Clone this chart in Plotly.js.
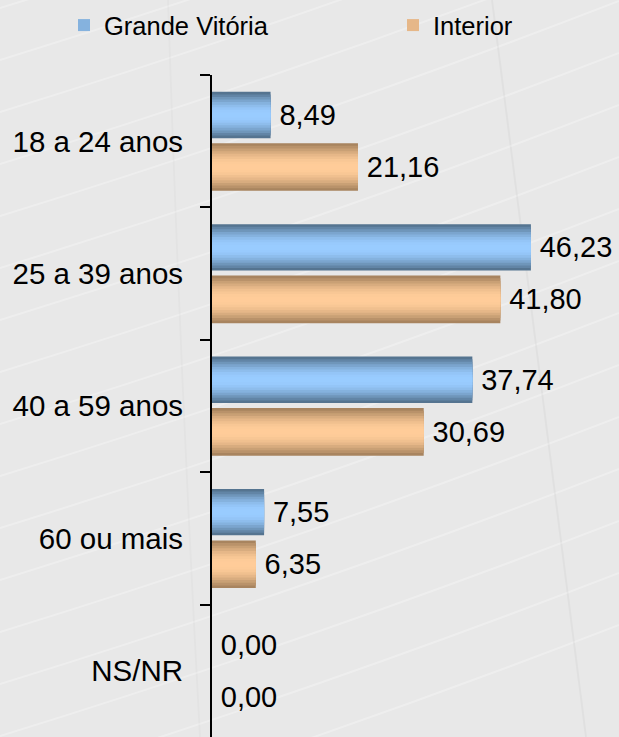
<!DOCTYPE html>
<html>
<head>
<meta charset="utf-8">
<script src="https://cdn.plot.ly/plotly-3.0.1.min.js"></script>
<style>html,body{margin:0;padding:0;background:#e8e8e8;}#chart{width:619px;height:737px;}</style>
</head>
<body>
<div id="chart"></div>
<script>
const categories = ["18 a 24 anos", "25 a 39 anos", "40 a 59 anos", "60 ou mais", "NS/NR"];
const grandeVitoria = [8.49, 46.23, 37.74, 7.55, 0.00];
const interior = [21.16, 41.80, 30.69, 6.35, 0.00];
const seriesNames = ["Grande Vitória", "Interior"];

const FONT = "Liberation Sans, Arial, sans-serif";
const N = 9;
const W = 619, H = 737, ML = 212, MT = 75;
const PW = W - ML, PH = H - MT;

function mix(a, b, t) {
  const pa = [parseInt(a.slice(1,3),16), parseInt(a.slice(3,5),16), parseInt(a.slice(5,7),16)];
  const pb = [parseInt(b.slice(1,3),16), parseInt(b.slice(3,5),16), parseInt(b.slice(5,7),16)];
  return "rgb(" + pa.map((v,i)=>Math.round(v + (pb[i]-v)*t)).join(",") + ")";
}

function layers(name, values, center, fullWidth, edge, mid, legendId) {
  const out = [];
  for (let k = 0; k < N; k++) {
    const w = fullWidth * (1 - k / N);
    const t = Math.sin((k / (N - 1)) * Math.PI / 2);
    out.push({
      type: "bar",
      orientation: "h",
      name: name,
      y: categories,
      x: values,
      width: w,
      offset: center - w / 2,
      marker: { color: mix(edge, mid, t), line: { width: 0 } },
      showlegend: k === 4,
      legend: legendId,
      legendgroup: name,
      hoverinfo: k === 0 ? "x+name" : "skip",
      texttemplate: k === 0 ? "\u2009%{x:.2f}" : "",
      textposition: k === 0 ? "outside" : "none",
      constraintext: "none",
      cliponaxis: false,
      textfont: { family: FONT, size: 29, color: "#000" }
    });
  }
  return out;
}

const data = [].concat(
  layers(seriesNames[0], grandeVitoria, -0.198, 0.35, "#557490", "#99ccff", "legend"),
  layers(seriesNames[1], interior, 0.195, 0.36, "#a8845f", "#ffcc99", "legend2")
);

// faint decorative background texture (pixel coords -> paper coords)
function px(X) { return (X - ML) / PW; }
function py(Y) { return 1 - (Y - MT) / PH; }
const shapes = [];
for (let i = -8; i < 16; i++) {
  const y0 = 60 + i * 52, y1 = y0 - 215;
  shapes.push({
    type: "path", xref: "paper", yref: "paper", layer: "below",
    path: "M" + px(0) + "," + py(y0) + " Q" + px(310) + "," + py((y0 + y1) / 2 + 12) + " " + px(619) + "," + py(y1),
    line: { color: "rgba(255,255,255,0.28)", width: 2 }
  });
}
shapes.push({ type: "path", xref: "paper", yref: "paper", layer: "below",
  path: "M" + px(492) + "," + py(0) + " Q" + px(540) + "," + py(380) + " " + px(586) + "," + py(737),
  line: { color: "rgba(0,0,0,0.03)", width: 2 } });
shapes.push({ type: "path", xref: "paper", yref: "paper", layer: "below",
  path: "M" + px(168) + "," + py(0) + " Q" + px(180) + "," + py(370) + " " + px(200) + "," + py(737),
  line: { color: "rgba(0,0,0,0.02)", width: 2 } });

const layout = {
  width: W,
  height: H,
  margin: { l: ML, r: 0, t: MT, b: 0, pad: 0, autoexpand: false },
  paper_bgcolor: "#e8e8e8",
  plot_bgcolor: "rgba(0,0,0,0)",
  separators: ",.",
  barmode: "overlay",
  font: { family: FONT, size: 28, color: "#000" },
  showlegend: true,
  shapes: shapes,
  legend: {
    orientation: "h",
    xref: "container", yref: "container",
    x: 64 / W, y: 1 - 2 / H, xanchor: "left", yanchor: "top",
    font: { family: FONT, size: 25.5, color: "#000" },
    bgcolor: "rgba(0,0,0,0)"
  },
  legend2: {
    orientation: "h",
    xref: "container", yref: "container",
    x: 393 / W, y: 1 - 2 / H, xanchor: "left", yanchor: "top",
    font: { family: FONT, size: 25.5, color: "#000" },
    bgcolor: "rgba(0,0,0,0)"
  },
  xaxis: {
    range: [0, 59],
    showgrid: false, zeroline: false, showline: false,
    showticklabels: false, ticks: ""
  },
  yaxis: {
    type: "category",
    categoryorder: "array",
    categoryarray: categories,
    range: [4.5, -0.5],
    showgrid: false, zeroline: false,
    showline: true, linecolor: "#000", linewidth: 2,
    ticks: "outside", tickson: "boundaries", ticklen: 10, tickwidth: 2, tickcolor: "#000",
    ticklabelstandoff: 21,
    tickfont: { family: FONT, size: 29.5, color: "#000" }
  }
};

Plotly.newPlot("chart", data, layout, { displayModeBar: false, staticPlot: true });
</script>
</body>
</html>
